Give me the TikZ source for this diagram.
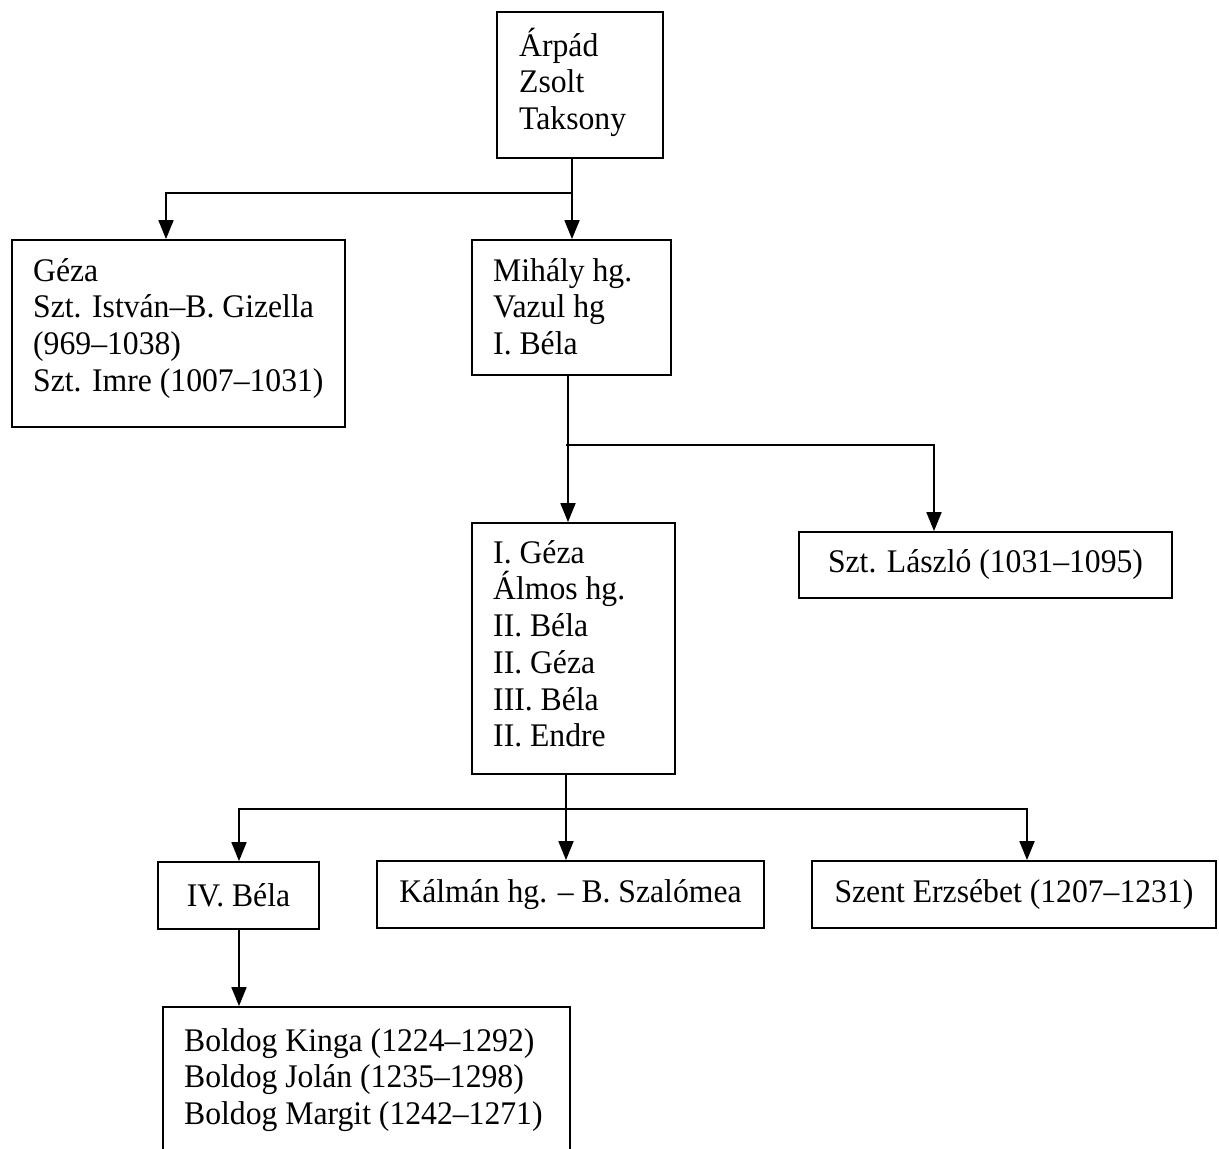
\documentclass[tikz,border=0pt]{standalone}
\usepackage{fontspec}
\setmainfont[FakeStretch=0.96]{Liberation Serif}
\usetikzlibrary{arrows.meta}
\begin{document}
\begin{tikzpicture}[x=1pt,y=-1pt,
  box/.style={draw,line width=1.8pt,inner sep=0pt},
  txt/.style={anchor=north west,inner sep=0pt,align=left,font=\fontsize{33}{36.7}\selectfont},
  cbox/.style={draw,line width=1.8pt,inner sep=0pt,font=\fontsize{33}{36.7}\selectfont},
  ln/.style={line width=1.8pt},
  arr/.style={line width=1.8pt,-{Triangle[width=15pt,length=19pt]}}]
\useasboundingbox (0,0) rectangle (1219,1149);
\clip (0,0) rectangle (1219,1149);
% boxes
\node[box,minimum width=166pt,minimum height=146pt] (top) at (580,85) {};
\node[box,minimum width=333pt,minimum height=187pt] (geza) at (178.5,333.5) {};
\node[box,minimum width=199pt,minimum height=135pt] (mihaly) at (571.5,307.5) {};
\node[box,minimum width=203pt,minimum height=251pt] (igeza) at (573.5,648.5) {};
\node[cbox,minimum width=373pt,minimum height=66pt] (laszlo) at (985.5,565) {Szt. László (1031–1095)};
\node[cbox,minimum width=161pt,minimum height=67pt] (ivbela) at (238.5,895.5) {IV. Béla};
\node[cbox,minimum width=387pt,minimum height=67pt] (kalman) at (570.5,894.5) {Kálmán hg. – B. Szalómea};
\node[cbox,minimum width=404pt,minimum height=67pt] (erzs) at (1014,894.5) {Szent Erzsébet (1207–1231)};
\node[box,minimum width=407pt,minimum height=163pt] (boldog) at (366.5,1088.5) {};
% texts
\node[txt] (ttop) at (519,25) {\rule{0pt}{31pt}Árpád\\Zsolt\\Taksony};
\node[txt] (tgeza) at (33,250) {\rule{0pt}{31pt}Géza\\Szt. István–B. Gizella\\(969–1038)\\Szt. Imre (1007–1031)};
\node[txt] (tmihaly) at (493,250) {\rule{0pt}{31pt}Mihály hg.\\Vazul hg\\I. Béla};
\node[txt] (tigeza) at (493,532) {\rule{0pt}{31pt}I. Géza\\Álmos hg.\\II. Béla\\II. Géza\\III. Béla\\II. Endre};
\node[txt] (tboldog) at (184,1020) {\rule{0pt}{31pt}Boldog Kinga (1224–1292)\\Boldog Jolán (1235–1298)\\Boldog Margit (1242–1271)};
% junctions
\coordinate (j1) at (572,193);
\coordinate (j2) at (568,445);
\coordinate (j3) at (566,809);
% connectors
\draw[ln] (j1 |- top.south) -- (j1);
\draw[arr] (j1) -- (j1 |- mihaly.north);
\draw[arr] (j1) -| ([xshift=-12.5pt]geza.north);
\draw[arr] (j2 |- mihaly.south) -- (j2 |- igeza.north);
\draw[arr] ([xshift=-2pt]j2) -| ([xshift=-51.5pt]laszlo.north);
\draw[arr] (j3 |- igeza.south) -- (j3 |- kalman.north);
\draw[arr] (j3) -| ([xshift=0.5pt]ivbela.north);
\draw[arr] (j3) -| ([xshift=13pt]erzs.north);
\draw[arr] ([xshift=0.5pt]ivbela.south) -- ([xshift=0.5pt]ivbela.south |- boldog.north);
\end{tikzpicture}
\end{document}
